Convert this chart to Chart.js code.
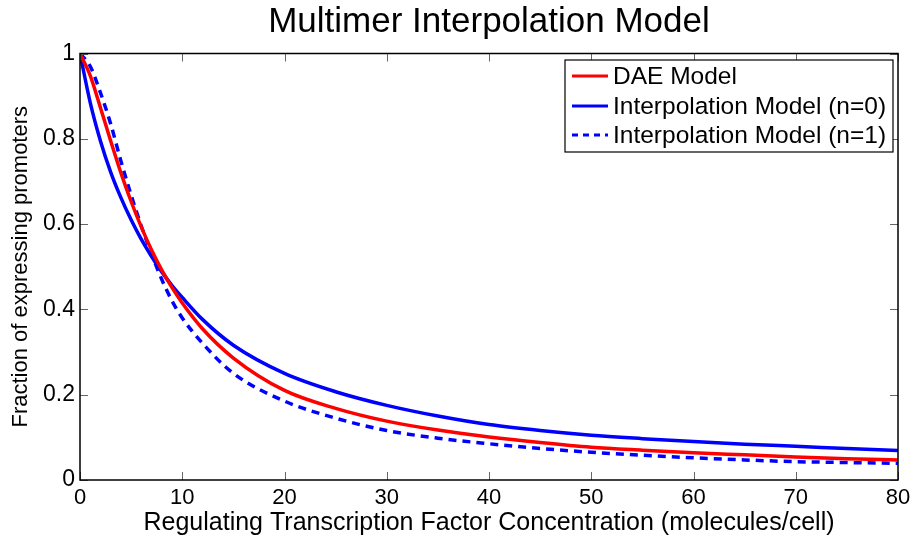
<!DOCTYPE html>
<html>
<head>
<meta charset="utf-8">
<script src="https://cdn.jsdelivr.net/npm/chart.js@4.4.1/dist/chart.umd.min.js"></script>
<style>
  html, body { margin: 0; padding: 0; background: #fff; }
  #wrap { width: 916px; height: 542px; }
</style>
</head>
<body>
<div id="wrap"><canvas id="multimerChart" width="916" height="542"></canvas></div>
<script>
// values
const concentration = [0, 1, 2, 3, 4, 5, 6, 7, 8, 9, 10, 12, 15, 20, 25, 30, 35, 40, 45, 50, 55, 60, 65, 70, 75, 80];
const daeModel      = [1, 0.948, 0.873, 0.795, 0.72, 0.653, 0.593, 0.539, 0.492, 0.451, 0.415, 0.354, 0.286, 0.21, 0.168, 0.138, 0.117, 0.101, 0.088, 0.077, 0.07, 0.064, 0.059, 0.054, 0.05, 0.047];
const interpN0      = [1, 0.885, 0.795, 0.722, 0.662, 0.61, 0.564, 0.524, 0.488, 0.456, 0.428, 0.376, 0.316, 0.25, 0.207, 0.175, 0.15, 0.13, 0.116, 0.105, 0.097, 0.09, 0.084, 0.079, 0.074, 0.069];
const interpN1      = [1, 0.97, 0.908, 0.835, 0.748, 0.668, 0.595, 0.53, 0.47, 0.42, 0.38, 0.32, 0.25, 0.185, 0.145, 0.116, 0.098, 0.085, 0.074, 0.065, 0.058, 0.052, 0.047, 0.043, 0.041, 0.039];
const xTickValues = [0, 10, 20, 30, 40, 50, 60, 70, 80];
const yTickValues = [0, 0.2, 0.4, 0.6, 0.8, 1];

const FONT = '"Liberation Sans", Arial, Helvetica, sans-serif';

function toPoints(values) {
    return concentration.map((c, i) => ({ x: c, y: values[i] }));
}

// MATLAB style box with inward ticks on all four sides
const axesBoxPlugin = {
    id: 'axesBox',
    afterDatasetsDraw(chart) {
        const { ctx, chartArea: a, scales } = chart;
        ctx.save();
        ctx.strokeStyle = '#666';
        ctx.lineWidth = 1;
        const len = 8;
        ctx.beginPath();
        xTickValues.forEach(v => {
            const px = Math.round(scales.x.getPixelForValue(v)) + 0.5;
            ctx.moveTo(px, a.bottom); ctx.lineTo(px, a.bottom - len);
            ctx.moveTo(px, a.top); ctx.lineTo(px, a.top + len);
        });
        yTickValues.forEach(v => {
            const py = Math.round(scales.y.getPixelForValue(v)) + 0.5;
            ctx.moveTo(a.left, py); ctx.lineTo(a.left + len, py);
            ctx.moveTo(a.right, py); ctx.lineTo(a.right - len, py);
        });
        ctx.stroke();
        ctx.strokeStyle = '#000';
        ctx.lineWidth = 1.5;
        ctx.strokeRect(a.left, a.top, a.right - a.left, a.bottom - a.top);
        ctx.restore();
    }
};

// legend box inside the upper right corner
const boxLegendPlugin = {
    id: 'boxLegend',
    afterDraw(chart) {
        const { ctx, chartArea: a } = chart;
        const w = 328, h = 92;
        const left = a.right - 5 - w, top = a.top + 6.5;
        ctx.save();
        ctx.fillStyle = '#fff';
        ctx.fillRect(left, top, w, h);
        ctx.strokeStyle = '#000';
        ctx.lineWidth = 1.2;
        ctx.strokeRect(left, top, w, h);
        ctx.font = '24.5px ' + FONT;
        ctx.textBaseline = 'middle';
        ctx.fillStyle = '#000';
        const rows = [16, 46, 75];
        chart.data.datasets.forEach((ds, i) => {
            const cy = top + rows[i];
            ctx.beginPath();
            ctx.strokeStyle = ds.borderColor;
            ctx.lineWidth = 3;
            ctx.setLineDash(ds.borderDash.length ? [6, 5] : []);
            ctx.moveTo(left + 7, cy);
            ctx.lineTo(left + 43, cy);
            ctx.stroke();
            ctx.setLineDash([]);
            ctx.fillText(ds.label, left + 48, cy + 1);
        });
        ctx.restore();
    }
};

const chartData = {
    datasets: [{
        label: 'DAE Model',
        data: toPoints(daeModel),
        borderColor: '#ff0000',
        borderWidth: 3.5,
        borderDash: [],
        pointRadius: 0,
        cubicInterpolationMode: 'monotone'
    }, {
        label: 'Interpolation Model (n=0)',
        data: toPoints(interpN0),
        borderColor: '#0000ff',
        borderWidth: 3.5,
        borderDash: [],
        pointRadius: 0,
        cubicInterpolationMode: 'monotone'
    }, {
        label: 'Interpolation Model (n=1)',
        data: toPoints(interpN1),
        borderColor: '#0000ff',
        borderWidth: 3.5,
        borderDash: [8, 6],
        pointRadius: 0,
        cubicInterpolationMode: 'monotone'
    }]
};

const config = {
    type: 'line',
    data: chartData,
    options: {
        responsive: false,
        animation: false,
        devicePixelRatio: 1,
        layout: { padding: { left: 0, right: 18, top: 0, bottom: 0 } },
        plugins: {
            legend: { display: false },
            tooltip: { enabled: false },
            title: {
                display: true,
                fullSize: false,
                text: 'Multimer Interpolation Model',
                color: '#000',
                font: { family: FONT, size: 35, weight: 'normal' },
                padding: { top: 1, bottom: 10.5 }
            }
        },
        scales: {
            x: {
                type: 'linear',
                min: 0,
                max: 80,
                afterBuildTicks: axis => { axis.ticks = xTickValues.map(v => ({ value: v })); },
                afterFit: axis => { axis.height = 62; },
                grid: { display: false, drawTicks: false },
                border: { display: false },
                ticks: {
                    color: '#000',
                    padding: 5,
                    maxRotation: 0,
                    font: { family: FONT, size: 22 }
                },
                title: {
                    display: true,
                    text: 'Regulating Transcription Factor Concentration (molecules/cell)',
                    color: '#000',
                    font: { family: FONT, size: 25 },
                    padding: { top: 0, bottom: 4 }
                }
            },
            y: {
                type: 'linear',
                min: 0,
                max: 1,
                afterBuildTicks: axis => { axis.ticks = yTickValues.map(v => ({ value: v })); },
                afterFit: axis => { axis.width = 80; },
                grid: { display: false, drawTicks: false },
                border: { display: false },
                ticks: {
                    color: '#000',
                    padding: 5,
                    font: { family: FONT, size: 23 },
                    callback: v => String(Number(v.toFixed(2)))
                },
                title: {
                    display: true,
                    text: 'Fraction of expressing promoters',
                    color: '#000',
                    font: { family: FONT, size: 22 },
                    padding: { top: 8, bottom: 0 }
                }
            }
        }
    },
    plugins: [axesBoxPlugin, boxLegendPlugin]
};

new Chart(document.getElementById('multimerChart'), config);
</script>
</body>
</html>
